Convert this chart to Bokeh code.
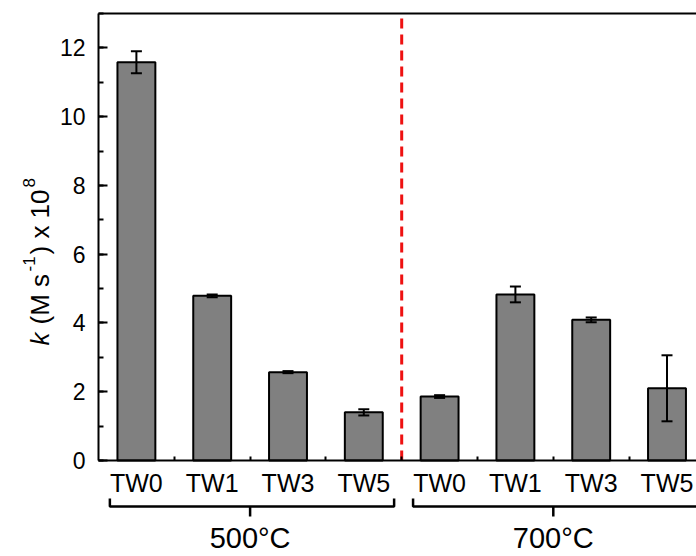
import math
from bokeh.plotting import figure
from bokeh.models import (ColumnDataSource, Whisker, TeeHead, LinearAxis, FixedTicker,
                          SingleIntervalTicker, Range1d)
from bokeh.embed import file_html
from bokeh.resources import INLINE
from bokeh.core.properties import value

# ---------------- data ----------------
categories = ["TW0", "TW1", "TW3", "TW5", "TW0", "TW1", "TW3", "TW5"]
groups = ["500°C", "700°C"]
group_index = [0, 0, 0, 0, 1, 1, 1, 1]
k_values = [11.58, 4.79, 2.57, 1.40, 1.86, 4.83, 4.09, 2.10]
k_errors = [0.32, 0.04, 0.03, 0.09, 0.04, 0.23, 0.07, 0.96]

FONT = "Liberation Sans"

xs = [i + 1 for i in range(len(categories))]
src = ColumnDataSource(dict(
    x=xs, top=k_values,
    upper=[v + e for v, e in zip(k_values, k_errors)],
    lower=[v - e for v, e in zip(k_values, k_errors)],
))

# ---------------- layout (frame covers whole canvas) ----------------
W, H = 696, 556
PX_PER_X = 75.8          # pixels per category
AXIS_PX = 98             # page x of the y axis (x = 0.5)
X0 = 0.5 - AXIS_PX / PX_PER_X
X1 = 0.5 + (W - AXIS_PX) / PX_PER_X
Y_TOP = 13.0
ZERO_PX = 460            # page y of k = 0
TOP_PX = 13              # page y of k = 13
PX_PER_Y = (ZERO_PX - TOP_PX) / Y_TOP
Y1 = Y_TOP + TOP_PX / PX_PER_Y
Y0 = -(H - ZERO_PX) / PX_PER_Y

def dx(px):
    return X0 + px / PX_PER_X

def dy(py):
    return (ZERO_PX - py) / PX_PER_Y

p = figure(width=W, height=H, output_backend="svg", toolbar_location=None,
           x_range=Range1d(X0, X1), y_range=Range1d(Y0, Y1),
           x_axis_location=None, y_axis_location=None,
           min_border=0)
p.grid.visible = False
p.outline_line_color = None
p.background_fill_color = "white"
p.border_fill_color = "white"

# y axis drawn at x = 0.5
yaxis = LinearAxis(fixed_location=0.5,
                   ticker=SingleIntervalTicker(interval=2, num_minor_ticks=2),
                   bounds=(0, Y_TOP))
yaxis.axis_line_width = 2
yaxis.axis_line_color = "black"
yaxis.major_tick_in = 9
yaxis.major_tick_out = 0
yaxis.minor_tick_in = 5
yaxis.minor_tick_out = 0
yaxis.major_tick_line_width = 2
yaxis.minor_tick_line_width = 2
yaxis.major_label_text_font = FONT
yaxis.major_label_text_font_size = "23px"
yaxis.major_label_text_color = "black"
yaxis.major_label_standoff = 13
p.add_layout(yaxis, "left")

# x axis drawn at k = 0
boundaries = [i + 0.5 for i in xs[:-1]]
xaxis = LinearAxis(fixed_location=0, bounds=(0.5, X1),
                   ticker=FixedTicker(ticks=xs, minor_ticks=boundaries),
                   major_label_overrides={x: c for x, c in zip(xs, categories)})
xaxis.axis_line_width = 2
xaxis.axis_line_color = "black"
xaxis.major_tick_in = 0
xaxis.major_tick_out = 0
xaxis.minor_tick_in = 4
xaxis.minor_tick_out = 0
xaxis.minor_tick_line_width = 2
xaxis.major_label_text_font = FONT
xaxis.major_label_text_font_size = "25px"
xaxis.major_label_text_color = "black"
xaxis.major_label_standoff = 8
p.add_layout(xaxis, "below")

# top frame line at k = 13
top_axis = LinearAxis(fixed_location=Y_TOP, bounds=(0.5, X1),
                      ticker=FixedTicker(ticks=[]))
top_axis.axis_line_width = 2
top_axis.axis_line_color = "black"
top_axis.major_tick_in = 0
top_axis.major_tick_out = 0
top_axis.minor_tick_in = 0
top_axis.minor_tick_out = 0
top_axis.major_label_text_font_size = "0px"
p.add_layout(top_axis, "above")

# bars
p.vbar(x="x", top="top", bottom=0, width=0.5, source=src,
       fill_color="#808080", line_color="black", line_width=2)

# error bars
wk = Whisker(source=src, base="x", upper="upper", lower="lower",
             dimension="height", line_color="black", line_width=2,
             upper_head=TeeHead(size=11, line_width=2, line_color="black"),
             lower_head=TeeHead(size=11, line_width=2, line_color="black"),
             level="overlay")
p.add_layout(wk)

# red dashed separator between temperature groups
split = (xs[3] + xs[4]) / 2
p.segment(x0=[split], y0=[0], x1=[split], y1=[Y_TOP], line_color="#ee1111",
          line_width=3, line_dash="10 6")

# group brackets and labels
centers, bxs, bys = [], [], []
for g in range(len(groups)):
    members = [x for x, gi in zip(xs, group_index) if gi == g]
    a, b = members[0] - 0.35, members[-1] + 0.40
    c = sum(members) / len(members)
    centers.append(c)
    bxs.append([a, a, b, b])
    bys.append([dy(498), dy(506), dy(506), dy(498)])
    bxs.append([c, c])
    bys.append([dy(506), dy(516)])
p.multi_line(xs=bxs, ys=bys, line_color="black", line_width=2.5)
p.text(x=centers, y=[dy(521)] * len(centers), text=groups,
       text_font=value(FONT), text_font_size="29px", text_color="black",
       text_align="center", text_baseline="top")

# y axis title, composed of pieces (italic k, superscripts)
BASE_X, START_Y = 39, 345
pieces = [
    # text, style, size, offset along text (px), superscript raise (px)
    ("k", "italic", "26px", 0, 0),
    ("(M s", "normal", "26px", 21, 0),
    ("-1", "normal", "17px", 74, 11),
    (") x 10", "normal", "26px", 91, 0),
    ("8", "normal", "17px", 158, 11),
]
for txt, style, size, off, sup in pieces:
    p.text(x=[dx(BASE_X - sup)], y=[dy(START_Y - off)], text=[txt],
           angle=math.pi / 2, text_font=value(FONT),
           text_font_style=style, text_font_size=size, text_color="black",
           text_align="left", text_baseline="alphabetic")

open("out.html", "w").write(file_html(p, INLINE))
